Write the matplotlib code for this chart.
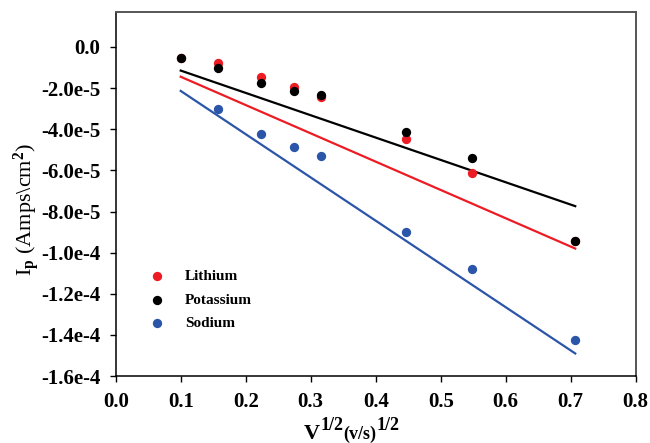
import numpy as np
import matplotlib
matplotlib.use('Agg')
import matplotlib.pyplot as plt

plt.rcParams['font.family'] = ['Liberation Serif', 'DejaVu Serif']
plt.rcParams['font.weight'] = 'bold'
plt.rcParams['mathtext.fontset'] = 'custom'
plt.rcParams['mathtext.rm'] = 'Liberation Serif:bold'
plt.rcParams['mathtext.it'] = 'Liberation Serif:bold'
plt.rcParams['mathtext.bf'] = 'Liberation Serif:bold'
plt.rcParams['mathtext.default'] = 'rm'

# square root of scan rate, (V/s)^1/2
sqrt_rate = [0.100, 0.158, 0.224, 0.274, 0.316, 0.447, 0.548, 0.707]

# peak current (A/cm^2)
lithium   = [-0.55e-5, -0.79e-5, -1.46e-5, -1.93e-5, -2.43e-5, -4.49e-5, -6.12e-5, -9.44e-5]
potassium = [-0.55e-5, -1.01e-5, -1.74e-5, -2.14e-5, -2.34e-5, -4.14e-5, -5.39e-5, -9.44e-5]
sodium    = [None, -3.02e-5, -4.22e-5, -4.85e-5, -5.30e-5, -9.02e-5, -1.080e-4, -1.426e-4]

# fitted lines as drawn (value at first and last x)
fit_x = [0.100, 0.707]
lithium_fit   = [-1.45e-5, -9.80e-5]
potassium_fit = [-1.15e-5, -7.74e-5]
sodium_fit    = [-2.14e-5, -1.490e-4]

red = '#ED1C24'
blue = '#2B55A8'

fig = plt.figure(figsize=(6.5, 4.43), dpi=100)
ax = fig.add_axes([0.178, 0.151, 0.800, 0.823])

ax.plot(fit_x, lithium_fit, color=red, lw=1.6, zorder=2)
ax.plot(fit_x, potassium_fit, color='black', lw=1.6, zorder=2)
ax.plot(fit_x, sodium_fit, color=blue, lw=1.6, zorder=2)

sx = [x for x, y in zip(sqrt_rate, sodium) if y is not None]
sy = [y for y in sodium if y is not None]
ax.scatter(sqrt_rate, lithium, s=45, color=red, label='Lithium', zorder=3, linewidths=0)
ax.scatter(sqrt_rate, potassium, s=45, color='black', label='Potassium', zorder=4, linewidths=0)
ax.scatter(sx, sy, s=45, color=blue, label='Sodium', zorder=3, linewidths=0)

ax.set_xlim(0.0, 0.8)
ax.set_ylim(-1.6e-4, 1.72e-5)
ax.set_xticks(np.arange(0, 0.81, 0.1))
ax.set_xticklabels([f'{v:.1f}' for v in np.arange(0, 0.81, 0.1)])
yt = np.arange(0, -1.61e-4, -2e-5)
ax.set_yticks(yt)
ylabels = ['0.0'] + ['%.1fe%d' % (v / 10.0 ** np.floor(np.log10(abs(v))), np.floor(np.log10(abs(v)))) for v in yt[1:]]
ax.set_yticklabels(ylabels)
ax.tick_params(direction='out', length=4, width=1, labelsize=15, colors='black')
ax.tick_params(axis='x', pad=7.5)
ax.tick_params(axis='y', pad=7)
for side in ['left', 'bottom']:
    ax.spines[side].set_color('black')
    ax.spines[side].set_linewidth(1.1)
for side in ['top', 'right']:
    ax.spines[side].set_color('#555555')
    ax.spines[side].set_linewidth(1.4)

# y label
ax.set_ylabel(r'I$_{p}$ (Amps\cm$^{2}$)', fontsize=16)
ax.yaxis.set_label_coords(-0.141, 0.456)

# x label built from pieces: V^1/2 (v/s)^1/2
base_y = -0.172
pieces = [('V', 16, 0), ('1/2', 13, 6.5), ('(v/s)', 13, 0), ('1/2', 13, 6.5)]
prev = ax.annotate(pieces[0][0], xy=(0.362, base_y), xycoords='axes fraction',
                   ha='left', va='baseline', fontsize=pieces[0][1], annotation_clip=False)
for txt, size, rise in pieces[1:]:
    prev = ax.annotate(txt, xy=(1, base_y), xycoords=(prev, 'axes fraction'),
                       xytext=(0, rise), textcoords='offset points',
                       ha='left', va='baseline', fontsize=size, annotation_clip=False)

ax.legend(loc='upper left', bbox_to_anchor=(0.024, 0.330), frameon=False, fontsize=11,
          scatterpoints=1, borderaxespad=0.5, handletextpad=0.8, labelspacing=0.63)

fig.savefig('out.png', dpi=100)
